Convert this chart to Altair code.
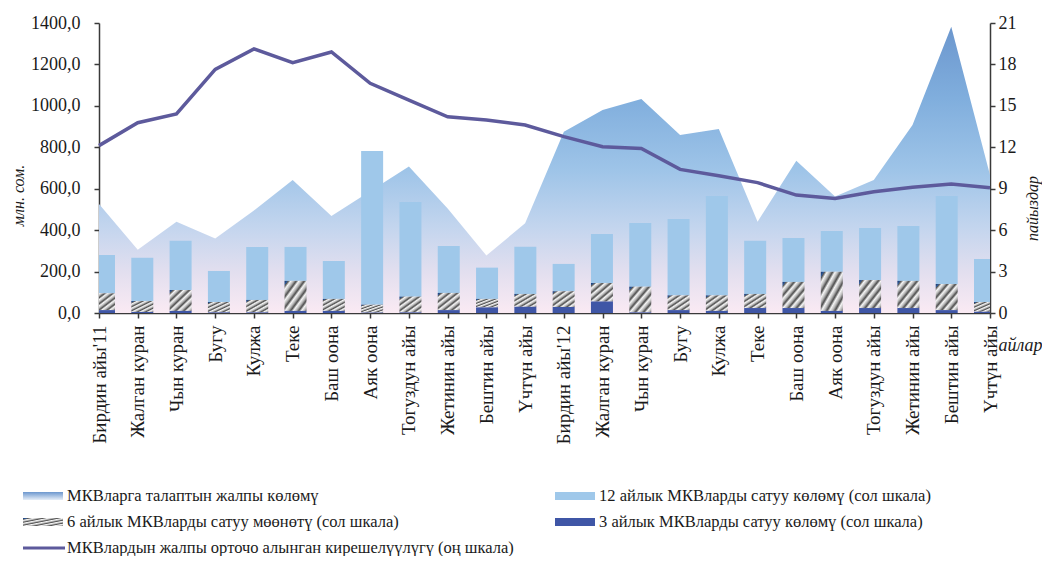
import json
import altair as alt
import pandas as pd

# ---------------- data ----------------
months = ["Бирдин айы'11", "Жалган куран", "Чын куран", "Бугу", "Кулжа", "Теке",
          "Баш оона", "Аяк оона", "Тогуздун айы", "Жетинин айы", "Бештин айы", "Үчтүн айы",
          "Бирдин айы'12", "Жалган куран", "Чын куран", "Бугу", "Кулжа", "Теке",
          "Баш оона", "Аяк оона", "Тогуздун айы", "Жетинин айы", "Бештин айы", "Үчтүн айы"]

# total demand for T-bills (left scale, mln som)
demand = [526, 305, 441, 360, 495, 642, 468, 588, 707, 505, 277, 433,
          875, 980, 1033, 859, 888, 441, 735, 562, 642, 908, 1382, 666]
# 3-month sales volume (left scale)
sales_3m = [14, 5, 10, 3, 3, 10, 10, 2, 3, 14, 27, 30,
            29, 55, 3, 14, 10, 24, 24, 10, 24, 24, 14, 6]
# 6-month sales volume (left scale)
sales_6m = [81, 53, 101, 50, 60, 145, 58, 38, 76, 83, 41, 62,
            76, 90, 124, 71, 75, 68, 126, 189, 135, 131, 126, 47]
# 12-month sales volume (left scale)
sales_12m = [185, 209, 238, 150, 256, 164, 183, 742, 457, 226, 151, 228,
             132, 236, 308, 369, 480, 257, 212, 197, 251, 265, 425, 208]
# weighted average yield (right scale, %)
yield_avg = [12.12, 13.78, 14.41, 17.64, 19.12, 18.13, 18.90, 16.63, 15.42, 14.21, 13.97, 13.61,
             12.77, 12.04, 11.92, 10.40, 9.94, 9.44, 8.54, 8.30, 8.78, 9.10, 9.34, 9.07]

left_ticks = [0, 200, 400, 600, 800, 1000, 1200, 1400]
right_ticks = [0, 3, 6, 9, 12, 15, 18, 21]

legend_labels = ["МКВларга талаптын жалпы көлөмү",
                 "12 айлык МКВларды сатуу көлөмү (сол шкала)",
                 " 6 айлык МКВларды сатуу мөөнөтү (сол шкала)",
                 "3 айлык МКВларды сатуу көлөмү (сол шкала)",
                 "МКВлардын  жалпы  орточо алынган кирешелүүлүгү (оң шкала)"]
legend_kind = ["area", "m12", "m6", "m3", "line"]
legend_col = [0, 1, 0, 1, 0]
legend_row = [0, 0, 1, 1, 2]

# ---------------- tables ----------------
df = pd.DataFrame({
    "idx": list(range(len(months))),
    "month": months,
    "demand": demand,
    "s3": sales_3m,
    "s6": sales_6m,
    "s12": sales_12m,
    "yield": yield_avg,
})
df["zero"] = 0
df["top3"] = df["s3"]
df["top6"] = df["s3"] + df["s6"]
df["top12"] = df["top6"] + df["s12"]

leg = pd.DataFrame({"label": legend_labels, "kind": legend_kind,
                    "col": legend_col, "row": legend_row})

# ---------------- styles ----------------
FONT = "Liberation Serif"
LIGHT_BLUE = "#9FC8EA"
DARK_BLUE = "#3F56A6"
LINE_COLOR = "#5D5A9C"

area_fill = {
    "gradient": "linear", "x1": 0, "y1": 0, "x2": 0, "y2": 1,
    "stops": [
        {"offset": 0.0, "color": "#6C97CE"},
        {"offset": 0.25, "color": "#80AEDD"},
        {"offset": 0.5, "color": "#9EC4E8"},
        {"offset": 0.7, "color": "#C3D5EE"},
        {"offset": 0.86, "color": "#E3DFEF"},
        {"offset": 1.0, "color": "#FAEAF3"},
    ],
}

hatch_stops = [{"offset": 0.0, "color": "#1B3466"}, {"offset": 0.07, "color": "#2E5B9A"},
               {"offset": 0.08, "color": "#5C5C5C"}]
periods = 5
for k in range(periods):
    start = 0.08 + k * (0.92 / periods)
    step = 0.92 / periods
    hatch_stops += [
        {"offset": round(start + step * 0.05, 4), "color": "#555555"},
        {"offset": round(start + step * 0.35, 4), "color": "#F6F6F6"},
        {"offset": round(start + step * 0.7, 4), "color": "#B8B8B8"},
        {"offset": round(min(start + step * 0.98, 1.0), 4), "color": "#5E5E5E"},
    ]
hatch_fill = {"gradient": "linear", "x1": 0, "y1": 0, "x2": 1, "y2": 1, "stops": hatch_stops}

W, H = 891, 290
x_scale = alt.Scale(domain=[0, len(months) - 1], nice=False, zero=False)
yl_scale = alt.Scale(domain=[0, 1400], nice=False)
yr_scale = alt.Scale(domain=[0, 21], nice=False)

label_expr = json.dumps(months, ensure_ascii=False) + "[datum.value]"

base = alt.Chart(df)

# ---------------- layers ----------------
area = base.mark_area(fill=area_fill, line=False, opacity=1).encode(
    x=alt.X("idx:Q", scale=x_scale,
            axis=alt.Axis(values=list(range(len(months))), labelExpr=label_expr,
                          labelAngle=270, labelAlign="right", labelBaseline="middle",
                          labelPadding=7, labelFontSize=19, labelFlush=False,
                          labelOverlap=False, tickSize=5,
                          title="айлар", titleFontStyle="italic", titleFontWeight="normal",
                          titleFontSize=18, titleX=899, titleY=32, titleAlign="left",
                          titleBaseline="middle", titleAngle=0)),
    y=alt.Y("demand:Q", scale=yl_scale,
            axis=alt.Axis(orient="left", values=left_ticks,
                          labelExpr="replace(format(datum.value, '.1f'), '.', ',')",
                          labelFontSize=18, labelPadding=14, tickSize=5,
                          title="млн. сом.", titleFontStyle="italic", titleFontWeight="normal",
                          titleFontSize=16, titleAngle=270, titleX=-81, titleY=172,
                          titleAlign="center", titleBaseline="middle")),
)


def bar_layer(lo, hi, fill):
    return base.mark_bar(width=22, fill=fill, clip=True).encode(
        x=alt.X("idx:Q", scale=x_scale, axis=None),
        y=alt.Y(f"{hi}:Q", scale=yl_scale, axis=None),
        y2=alt.Y2(f"{lo}:Q"),
    )


bar12 = bar_layer("top6", "top12", LIGHT_BLUE)
bar6 = bar_layer("top3", "top6", hatch_fill)
bar3 = bar_layer("zero", "top3", DARK_BLUE)

line = base.mark_line(color=LINE_COLOR, strokeWidth=3.5).encode(
    x=alt.X("idx:Q", scale=x_scale, axis=None),
    y=alt.Y("yield:Q", scale=yr_scale,
            axis=alt.Axis(orient="right", values=right_ticks, labelFontSize=18,
                          labelPadding=3, tickSize=5,
                          title="пайыздар", titleFontStyle="italic", titleFontWeight="normal",
                          titleFontSize=16, titleAngle=270, titleX=42, titleY=185,
                          titleAlign="center", titleBaseline="middle")),
)

# ---------------- legend (positioned through its own scales) ----------------
lx = alt.Scale(domain=[0, 1], range=[-76, 456])
ly = alt.Scale(domain=[0, 2], range=[473, 525])
lbase = alt.Chart(leg)


def leg_swatch(kind, fill):
    return lbase.transform_filter(alt.datum.kind == kind).mark_rect(
        fill=fill, x2Offset=40, yOffset=-4, y2Offset=4).encode(
        x=alt.X("col:Q", scale=lx, axis=None),
        x2="col:Q",
        y=alt.Y("row:Q", scale=ly, axis=None),
        y2="row:Q",
    )


sw_area = leg_swatch("area", {"gradient": "linear", "x1": 0, "y1": 0, "x2": 0, "y2": 1,
                             "stops": [{"offset": 0, "color": "#6C97CE"},
                                       {"offset": 1, "color": "#E6EEF8"}]})
sw_12 = leg_swatch("m12", LIGHT_BLUE)
sw_6 = leg_swatch("m6", hatch_fill)
sw_3 = leg_swatch("m3", DARK_BLUE)
sw_line = lbase.transform_filter(alt.datum.kind == "line").mark_rule(
    color=LINE_COLOR, strokeWidth=3, x2Offset=42).encode(
    x=alt.X("col:Q", scale=lx, axis=None),
    x2="col:Q",
    y=alt.Y("row:Q", scale=ly, axis=None),
)
leg_text = lbase.mark_text(align="left", baseline="middle", dx=44, font=FONT,
                           fontSize=16.5, color="#1a1a1a").encode(
    x=alt.X("col:Q", scale=lx, axis=None),
    y=alt.Y("row:Q", scale=ly, axis=None),
    text="label:N",
)

chart = alt.layer(area, bar12, bar6, bar3, line,
                  sw_area, sw_12, sw_6, sw_3, sw_line, leg_text).resolve_scale(
    x="independent", y="independent"
).properties(
    width=W, height=H,
    padding={"left": 91, "top": 15, "right": 52, "bottom": 243},
    autosize=alt.AutoSizeParams(type="none"),
).configure_axis(
    labelFont=FONT, titleFont=FONT, grid=False,
    domainColor="#3a3a3a", tickColor="#3a3a3a", domainWidth=1.5, tickWidth=1.5,
    labelColor="#1a1a1a", titleColor="#1a1a1a",
).configure_view(stroke=None)

chart.save("out.html", embed_options={"renderer": "svg", "actions": False})
